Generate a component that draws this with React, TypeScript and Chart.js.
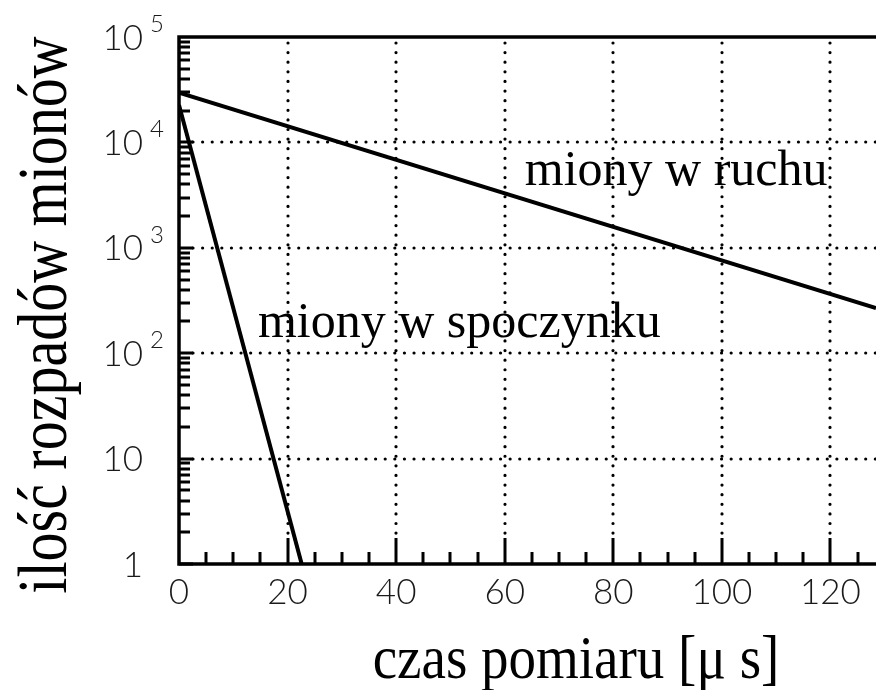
import React, { useEffect, useRef } from 'react';
import { Chart, registerables } from 'chart.js';

Chart.register(...registerables);

// ---- data ----
const restTimes = [0, 22.6];
const restCounts = [22600, 1];
const movingTimes = [0, 128.4];
const movingCounts = [29650, 268];

const xTickValues = [0, 20, 40, 60, 80, 100, 120];
const xMinorStep = 5;
const yDecadeExponents = [0, 1, 2, 3, 4, 5];

const annotationLabels = ['miony w ruchu', 'miony w spoczynku'];
const annotationTimes = [63.7, 14.55];
const annotationCounts = [3945, 142.6];

const xTitle = 'czas pomiaru [\u03bc s]';
const yTitle = 'ilość rozpadów mionów';

const X_MIN = 0;
const X_MAX = 128.4;
const Y_MIN = 1;
const Y_MAX = 100000;

const SERIF = "'Liberation Serif', 'Times New Roman', serif";
const SANS_LIGHT = "300 35px Lato, 'Liberation Sans', sans-serif";
const SANS_LIGHT_SMALL = "300 24px Lato, 'Liberation Sans', sans-serif";

const decor = {
  id: 'decor',
  beforeDatasetsDraw(chart: any) {
    const { ctx, chartArea: a, scales } = chart;
    const x = scales.x;
    const y = scales.y;
    ctx.save();
    ctx.strokeStyle = '#000';
    ctx.lineWidth = 3.2;
    ctx.lineCap = 'round';
    ctx.setLineDash([0.01, 9.6]);
    for (const e of yDecadeExponents) {
      const v = Math.pow(10, e);
      if (v <= Y_MIN || v >= Y_MAX) continue;
      const py = Math.round(y.getPixelForValue(v));
      ctx.beginPath();
      ctx.moveTo(a.left + 14, py);
      ctx.lineTo(a.right + 2, py);
      ctx.stroke();
    }
    for (const v of xTickValues) {
      if (v <= X_MIN) continue;
      const px = Math.round(x.getPixelForValue(v));
      ctx.beginPath();
      ctx.moveTo(px, a.top + 6);
      ctx.lineTo(px, a.bottom - 26);
      ctx.stroke();
    }
    ctx.restore();
  },
  afterDatasetsDraw(chart: any) {
    const { ctx, chartArea: a, scales } = chart;
    const x = scales.x;
    const y = scales.y;
    ctx.save();
    ctx.strokeStyle = '#000';
    ctx.setLineDash([]);
    ctx.lineCap = 'butt';
    // y ticks (inside)
    ctx.lineWidth = 3;
    for (let e = 0; e < 5; e++) {
      for (let m = 1; m <= 9; m++) {
        const v = m * Math.pow(10, e);
        const py = Math.round(y.getPixelForValue(v));
        const len = m === 1 ? 14 : 11;
        ctx.beginPath();
        ctx.moveTo(a.left, py);
        ctx.lineTo(a.left + len, py);
        ctx.stroke();
      }
    }
    // x ticks (inside)
    for (let v = X_MIN + xMinorStep; v <= X_MAX; v += xMinorStep) {
      const px = Math.round(x.getPixelForValue(v));
      const len = v % 20 === 0 ? 26 : 12;
      ctx.beginPath();
      ctx.moveTo(px, a.bottom);
      ctx.lineTo(px, a.bottom - len);
      ctx.stroke();
    }
    // frame
    ctx.lineWidth = 3.5;
    ctx.beginPath();
    ctx.moveTo(a.right + 2, a.top);
    ctx.lineTo(a.left, a.top);
    ctx.lineTo(a.left, a.bottom);
    ctx.lineTo(a.right + 2, a.bottom);
    ctx.stroke();

    // annotations
    ctx.fillStyle = '#000';
    ctx.font = `50px ${SERIF}`;
    ctx.textAlign = 'left';
    ctx.textBaseline = 'alphabetic';
    annotationLabels.forEach((t, i) => {
      ctx.fillText(t, x.getPixelForValue(annotationTimes[i]), y.getPixelForValue(annotationCounts[i]));
    });
    ctx.restore();
  },
  afterDraw(chart: any) {
    const { ctx, chartArea: a, scales } = chart;
    const x = scales.x;
    const y = scales.y;
    ctx.save();
    ctx.fillStyle = '#1a1a1a';
    // y tick labels
    for (const e of yDecadeExponents) {
      const py = y.getPixelForValue(Math.pow(10, e));
      ctx.font = SANS_LIGHT;
      ctx.textAlign = 'right';
      ctx.textBaseline = 'alphabetic';
      ctx.fillText(e === 0 ? '1' : '10', a.left - 36, py + 12.5);
      if (e >= 2) {
        ctx.font = SANS_LIGHT_SMALL;
        ctx.textAlign = 'left';
        ctx.fillText(String(e), a.left - 29, py - 5);
      }
    }
    // x tick labels
    ctx.font = SANS_LIGHT;
    ctx.textAlign = 'center';
    ctx.textBaseline = 'alphabetic';
    for (const v of xTickValues) {
      ctx.fillText(String(v), x.getPixelForValue(v), a.bottom + 40);
    }
    // titles
    ctx.fillStyle = '#000';
    ctx.font = `55px ${SERIF}`;
    ctx.textAlign = 'center';
    ctx.save();
    ctx.translate(576, a.bottom + 114);
    ctx.scale(1, 1.12);
    ctx.fillText(xTitle, 0, 0);
    ctx.restore();

    ctx.font = `58px ${SERIF}`;
    ctx.save();
    ctx.translate(66, 315);
    ctx.rotate(-Math.PI / 2);
    ctx.scale(1, 1.22);
    ctx.fillText(yTitle, 0, 0);
    ctx.restore();
    ctx.restore();
  },
};

export default function App() {
  const ref = useRef<HTMLCanvasElement>(null);
  useEffect(() => {
    if (!ref.current) return;
    const chart = new Chart(ref.current, {
      type: 'line',
      data: {
        datasets: [
          {
            label: 'miony w ruchu',
            data: movingTimes.map((t, i) => ({ x: t, y: movingCounts[i] })),
            borderColor: '#000',
            borderWidth: 4,
            pointRadius: 0,
            tension: 0,
          },
          {
            label: 'miony w spoczynku',
            data: restTimes.map((t, i) => ({ x: t, y: restCounts[i] })),
            borderColor: '#000',
            borderWidth: 4,
            pointRadius: 0,
            tension: 0,
          },
        ],
      },
      options: {
        responsive: false,
        animation: false,
        events: [],
        layout: { padding: { top: 37, left: 0, right: 0, bottom: 0 } },
        plugins: { legend: { display: false }, tooltip: { enabled: false } },
        scales: {
          x: {
            type: 'linear',
            min: X_MIN,
            max: X_MAX,
            ticks: { display: false },
            grid: { display: false },
            border: { display: false },
            afterFit: (s: any) => {
              s.height = 126;
            },
          },
          y: {
            type: 'logarithmic',
            min: Y_MIN,
            max: Y_MAX,
            ticks: { display: false },
            grid: { display: false },
            border: { display: false },
            afterFit: (s: any) => {
              s.width = 179;
            },
          },
        },
      },
      plugins: [decor],
    });
    return () => chart.destroy();
  }, []);
  return (
    <div style={{ position: 'absolute', left: 0, top: 0, width: 876, height: 690 }}>
      <canvas ref={ref} width={876} height={690} style={{ display: 'block' }} />
    </div>
  );
}
